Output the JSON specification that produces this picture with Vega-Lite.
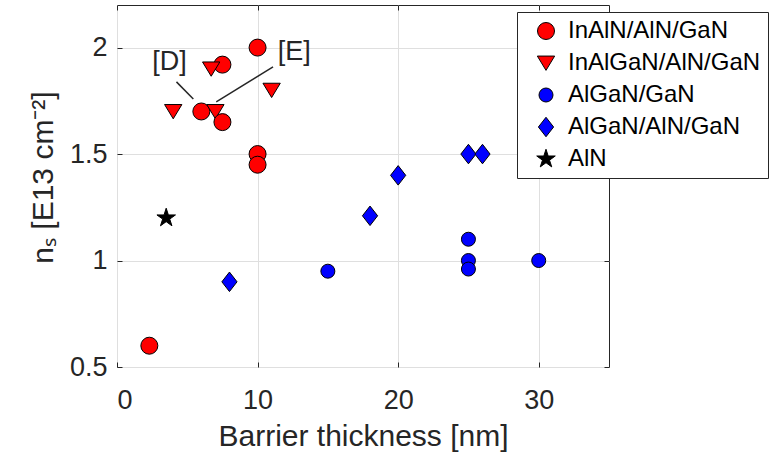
{
  "$schema": "https://vega.github.io/schema/vega-lite/v6.json",
  "width": 492,
  "height": 362,
  "autosize": "none",
  "padding": {"left": 117, "top": 5, "right": 166, "bottom": 85},
  "background": "white",
  "config": {
    "font": "Liberation Sans",
    "view": {"stroke": "#262626", "strokeWidth": 1},
    "axis": {
      "labelFont": "Liberation Sans",
      "titleFont": "Liberation Sans",
      "labelColor": "#262626",
      "titleColor": "#262626",
      "titleFontWeight": "normal",
      "gridColor": "#dfdfdf",
      "gridWidth": 1,
      "domain": false,
      "tickColor": "#262626",
      "tickSize": -5,
      "tickWidth": 1,
      "labelFontSize": 27,
      "titleFontSize": 30
    }
  },
  "resolve": {"axis": {"x": "independent", "y": "independent"}},
  "layer": [
    {
      "data": {
        "values": [
          {"thickness": 10, "ns": 2.0, "series": "InAlN/AlN/GaN"},
          {"thickness": 7.5, "ns": 1.92, "series": "InAlN/AlN/GaN"},
          {"thickness": 6, "ns": 1.70, "series": "InAlN/AlN/GaN"},
          {"thickness": 10, "ns": 1.50, "series": "InAlN/AlN/GaN"},
          {"thickness": 10, "ns": 1.45, "series": "InAlN/AlN/GaN"},
          {"thickness": 2.3, "ns": 0.60, "series": "InAlN/AlN/GaN"},
          {"thickness": 4, "ns": 1.70, "series": "InAlGaN/AlN/GaN"},
          {"thickness": 6.7, "ns": 1.90, "series": "InAlGaN/AlN/GaN"},
          {"thickness": 7, "ns": 1.70, "series": "InAlGaN/AlN/GaN"},
          {"thickness": 11, "ns": 1.80, "series": "InAlGaN/AlN/GaN"},
          {"thickness": 7.5, "ns": 1.65, "series": "InAlN/AlN/GaN"},
          {"thickness": 15, "ns": 0.95, "series": "AlGaN/GaN"},
          {"thickness": 25, "ns": 1.10, "series": "AlGaN/GaN"},
          {"thickness": 25, "ns": 1.00, "series": "AlGaN/GaN"},
          {"thickness": 25, "ns": 0.96, "series": "AlGaN/GaN"},
          {"thickness": 30, "ns": 1.00, "series": "AlGaN/GaN"},
          {"thickness": 8, "ns": 0.90, "series": "AlGaN/AlN/GaN"},
          {"thickness": 18, "ns": 1.21, "series": "AlGaN/AlN/GaN"},
          {"thickness": 20, "ns": 1.40, "series": "AlGaN/AlN/GaN"},
          {"thickness": 25, "ns": 1.50, "series": "AlGaN/AlN/GaN"},
          {"thickness": 26, "ns": 1.50, "series": "AlGaN/AlN/GaN"},
          {"thickness": 3.5, "ns": 1.20, "series": "AlN"}
        ]
      },
      "mark": {"type": "point", "filled": true, "opacity": 1, "stroke": "#000000", "strokeWidth": 1},
      "encoding": {
        "x": {
          "field": "thickness", "type": "quantitative",
          "scale": {"domain": [0, 35], "nice": false, "zero": false},
          "axis": {"orient": "bottom", "values": [0, 10, 20, 30], "title": "Barrier thickness [nm]", "grid": true, "labelPadding": 25, "titleBaseline": "alphabetic", "titleY": 78}
        },
        "y": {
          "field": "ns", "type": "quantitative",
          "scale": {"domain": [0.5, 2.2], "nice": false, "zero": false},
          "axis": {"orient": "left", "values": [0.5, 1, 1.5, 2], "format": "~g", "title": "nₛ [E13 cm⁻²]", "grid": true, "labelPadding": 15, "titleBaseline": "alphabetic", "titleX": -65, "titleY": 172, "titleAlign": "center", "titleAngle": -90}
        },
        "color": {
          "field": "series", "type": "nominal",
          "scale": {"domain": ["InAlN/AlN/GaN", "InAlGaN/AlN/GaN", "AlGaN/GaN", "AlGaN/AlN/GaN", "AlN"], "range": ["#ff0000", "#ff0000", "#0000ff", "#0000ff", "#000000"]},
          "legend": {
            "orient": "none", "legendX": 400, "legendY": 7, "title": null,
            "labelFontSize": 24, "labelFont": "Liberation Sans", "labelColor": "#000000", "labelLimit": 400,
            "strokeColor": "#262626", "fillColor": "#ffffff", "padding": 7, "rowPadding": 8,
            "symbolOffset": 10, "labelOffset": 10, "symbolStrokeColor": "#000000", "symbolStrokeWidth": 1, "symbolOpacity": 1
          }
        },
        "shape": {
          "field": "series", "type": "nominal",
          "scale": {"domain": ["InAlN/AlN/GaN", "InAlGaN/AlN/GaN", "AlGaN/GaN", "AlGaN/AlN/GaN", "AlN"], "range": ["circle", "M-1,-0.8L1,-0.8L0,0.85Z", "circle", "M0,-1L0.78,0L0,1L-0.78,0Z", "M0,-1L0.2234,-0.3074L0.9511,-0.309L0.3614,0.1174L0.5878,0.809L0,0.38L-0.5878,0.809L-0.3614,0.1174L-0.9511,-0.309L-0.2234,-0.3074Z"]}
        },
        "size": {
          "field": "series", "type": "nominal",
          "scale": {"type": "ordinal", "domain": ["InAlN/AlN/GaN", "InAlGaN/AlN/GaN", "AlGaN/GaN", "AlGaN/AlN/GaN", "AlN"], "range": [289, 300, 196, 380, 380]}
        }
      }
    },
    {
      "data": {"values": [{"x": 3.74, "y": 1.933, "label": "[D]"}, {"x": 12.61, "y": 1.981, "label": "[E]"}]},
      "mark": {"type": "text", "fontSize": 27, "font": "Liberation Sans", "color": "#262626", "baseline": "middle", "align": "center"},
      "encoding": {
        "x": {"field": "x", "type": "quantitative", "axis": {"orient": "top", "labels": false, "title": null, "grid": false, "values": [0, 10, 20, 30]}},
        "y": {"field": "y", "type": "quantitative", "axis": {"orient": "right", "labels": false, "title": null, "grid": false, "values": [0.5, 1, 1.5, 2]}},
        "text": {"field": "label"}
      }
    },
    {
      "data": {"values": [{"x": 4.23, "y": 1.839, "x2": 5.43, "y2": 1.759}, {"x": 11.1, "y": 1.909, "x2": 7.06, "y2": 1.745}]},
      "mark": {"type": "rule", "color": "#262626", "strokeWidth": 1.5},
      "encoding": {
        "x": {"field": "x", "type": "quantitative", "axis": null},
        "y": {"field": "y", "type": "quantitative", "axis": null},
        "x2": {"field": "x2"},
        "y2": {"field": "y2"}
      }
    }
  ]
}
